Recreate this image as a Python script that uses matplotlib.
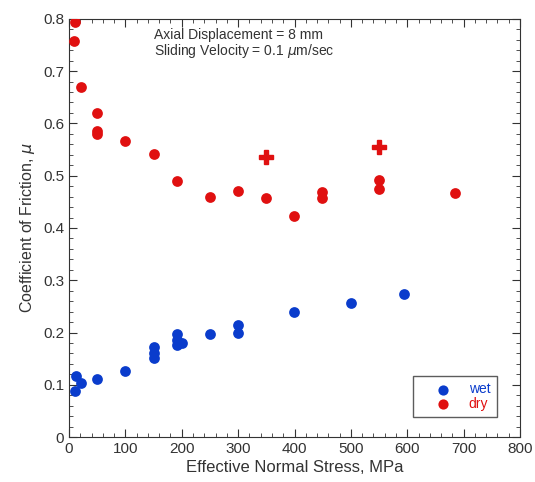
import matplotlib
matplotlib.use('Agg')
import matplotlib.pyplot as plt
from matplotlib.ticker import MultipleLocator

plt.rcParams['font.family'] = ['Liberation Sans', 'DejaVu Sans']

# dry samples (circles)
dry_stress = [10, 8, 21, 50, 50, 50, 100, 150, 191, 250, 300, 350, 399, 449, 449, 550, 550, 684]
dry_mu = [0.794, 0.758, 0.670, 0.620, 0.585, 0.580, 0.567, 0.542, 0.490, 0.460, 0.471,
          0.458, 0.423, 0.469, 0.458, 0.492, 0.475, 0.467]

# dry samples (crosses)
dry_plus_stress = [350, 550]
dry_plus_mu = [0.536, 0.555]

# wet samples
wet_stress = [12, 10, 21, 50, 100, 150, 150, 150, 191, 191, 191, 200, 250, 300, 300, 399, 500, 594]
wet_mu = [0.117, 0.089, 0.104, 0.111, 0.127, 0.173, 0.161, 0.151, 0.197, 0.186, 0.176,
          0.180, 0.198, 0.215, 0.200, 0.240, 0.256, 0.273]

red = '#e01010'
blue = '#0a3ccc'
dark = '#333333'

fig = plt.figure(figsize=(5.35, 4.82), dpi=100)
ax = fig.add_axes([0.129, 0.093, 0.843, 0.868])

ax.scatter(wet_stress, wet_mu, s=60, color=blue, label='wet', zorder=3, linewidths=0)
ax.scatter(dry_stress, dry_mu, s=60, color=red, label='dry', zorder=3, linewidths=0)
ax.plot(dry_plus_stress, dry_plus_mu, 'P', color=red, markersize=10.5, linestyle='none', zorder=3)

ax.set_xlim(0, 800)
ax.set_ylim(0, 0.8)
ax.xaxis.set_major_locator(MultipleLocator(100))
ax.xaxis.set_minor_locator(MultipleLocator(20))
ax.yaxis.set_minor_locator(MultipleLocator(0.02))
ax.set_yticks([0, 0.1, 0.2, 0.3, 0.4, 0.5, 0.6, 0.7, 0.8])
ax.set_yticklabels(['0', '0.1', '0.2', '0.3', '0.4', '0.5', '0.6', '0.7', '0.8'])
ax.tick_params(which='both', direction='in', top=True, right=True, labelsize=11, colors=dark)
ax.tick_params(which='major', length=6)
ax.tick_params(which='minor', length=3)
for s in ax.spines.values():
    s.set_color(dark)

ax.set_xlabel('Effective Normal Stress, MPa', fontsize=12, color=dark, labelpad=3)
ax.set_ylabel('Coefficient of Friction, $\\mu$', fontsize=11.5, color=dark)

ax.text(150, 0.782, 'Axial Displacement = 8 mm\nSliding Velocity = 0.1 $\\mu$m/sec',
        fontsize=10, va='top', ha='left', color=dark, linespacing=1.0)

leg = ax.legend(loc='upper left', bbox_to_anchor=(0.763, 0.146), borderaxespad=0,
                fontsize=10, frameon=True, fancybox=False, edgecolor=dark,
                handlelength=3.4, handletextpad=0.15, borderpad=0.45,
                labelspacing=0.05, markerscale=0.95)
leg.get_frame().set_linewidth(1.0)
for t, c in zip(leg.get_texts(), [blue, red]):
    t.set_color(c)

fig.savefig('out.png', dpi=100)
